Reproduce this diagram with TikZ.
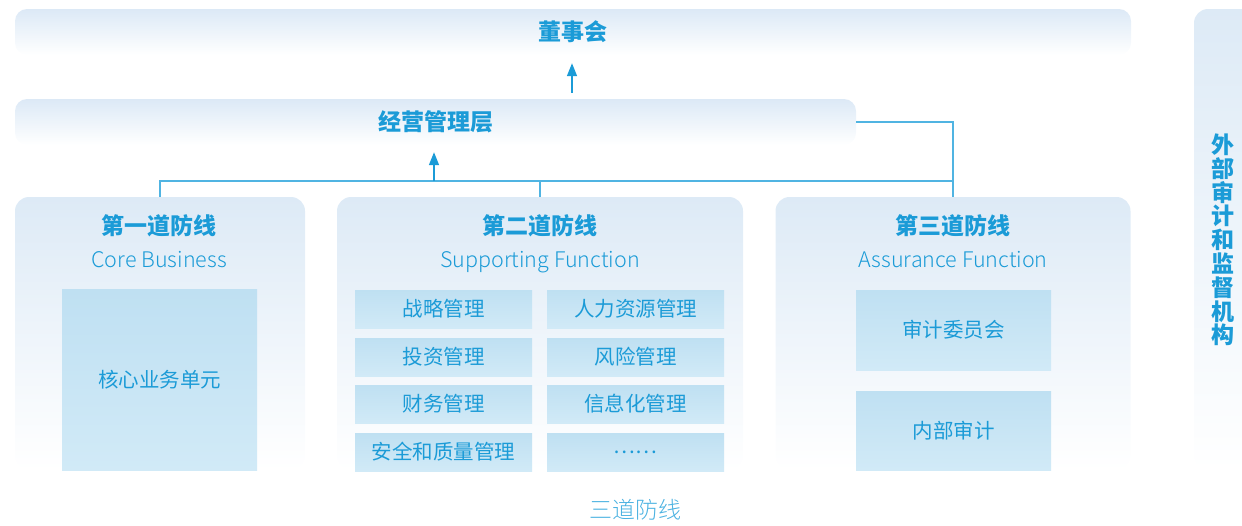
\documentclass[tikz,border=0pt]{standalone}
\usepackage{fontspec}
\setmainfont{Noto Sans CJK SC}
\newfontfamily\lightfont{Noto Sans CJK SC Light}
\usetikzlibrary{arrows.meta,calc}
\definecolor{tblue}{RGB}{27,155,215}
\definecolor{lblue}{RGB}{75,178,225}
\definecolor{linec}{RGB}{80,180,226}
\definecolor{barTop}{RGB}{220,233,246}
\definecolor{panelTop}{RGB}{221,234,246}
\definecolor{cellTop}{RGB}{191,224,242}
\definecolor{cellBot}{RGB}{209,234,247}
\tikzset{
  bar/.style={rounded corners=12pt, top color=barTop, bottom color=white, draw=none, inner sep=0pt, text=tblue, font=\fontsize{23}{26}\selectfont\bfseries},
  panel/.style={rounded corners=14pt, top color=panelTop, bottom color=white, draw=none, inner sep=0pt},
  cell/.style={top color=cellTop, bottom color=cellBot, draw=none, inner sep=0pt, text=tblue, font=\fontsize{20.5}{24}\selectfont},
  ttl/.style={text=tblue, font=\fontsize{23}{26}\selectfont\bfseries, inner sep=0pt},
  sub/.style={text=tblue, font=\fontsize{21.5}{26}\selectfont\lightfont, inner sep=0pt, anchor=base},
  conn/.style={draw=linec, line width=1.6pt},
  arr/.style={draw=tblue, line width=1.6pt, -{Triangle[width=10pt,length=13pt]}}
}
\begin{document}
\begin{tikzpicture}[x=1pt,y=-1pt]
\useasboundingbox (0,0) rectangle (1242,525);
\clip (0,0) rectangle (1242,525);
% bars
\node[bar, minimum width=1116pt, minimum height=46pt] (board) at (573,32) {董事会};
\node[bar, minimum width=841pt, minimum height=46pt] (mgmt) at (435.5,122) {经营管理层};
% side panel
\node[panel, minimum width=90pt, minimum height=461pt] (side) at (1239,239.5) {};
\node[text=tblue, font=\fontsize{23}{23.8}\selectfont\bfseries, align=center, inner sep=0pt] (sideT) at (1223,240) {外\\部\\审\\计\\和\\监\\督\\机\\构};
% panels
\node[panel, minimum width=290pt, minimum height=273pt] (p1) at (160,333.5) {};
\node[panel, minimum width=406pt, minimum height=273pt] (p2) at (540,333.5) {};
\node[panel, minimum width=355pt, minimum height=273pt] (p3) at (953,333.5) {};
% titles
\node[ttl] (t1) at (159,226) {第一道防线};
\node[sub] (s1) at (159,267) {Core Business};
\node[ttl] (t2) at (540,226) {第二道防线};
\node[sub] (s2) at (540,267) {Supporting Function};
\node[ttl] (t3) at (953,226) {第三道防线};
\node[sub] (s3) at (953,267) {Assurance Function};
% cells
\node[cell, minimum width=195pt, minimum height=181pt] (core) at (159.5,379.5) {核心业务单元};
\node[cell, minimum width=177pt, minimum height=38pt] (c11) at (443.5,309) {战略管理};
\node[cell, minimum width=177pt, minimum height=38pt] (c12) at (635.5,309) {人力资源管理};
\node[cell, minimum width=177pt, minimum height=38pt] (c21) at (443.5,357) {投资管理};
\node[cell, minimum width=177pt, minimum height=38pt] (c22) at (635.5,357) {风险管理};
\node[cell, minimum width=177pt, minimum height=38pt] (c31) at (443.5,404) {财务管理};
\node[cell, minimum width=177pt, minimum height=38pt] (c32) at (635.5,404) {信息化管理};
\node[cell, minimum width=177pt, minimum height=38pt] (c41) at (443.5,452) {安全和质量管理};
\node[cell, minimum width=177pt, minimum height=38pt] (c42) at (635.5,452) {……};
\node[cell, minimum width=195pt, minimum height=80pt] (audc) at (953.5,330) {审计委员会};
\node[cell, minimum width=195pt, minimum height=79pt] (inaud) at (953.5,430.5) {内部审计};
% bottom label
\node[sub, text=lblue, anchor=center, font=\fontsize{23}{26}\selectfont\lightfont] (lbl) at (635,510) {三道防线};
% connectors
\coordinate (bus) at (0,181);
\draw[conn] (p1.north) -- (p1.north |- bus) -| (p3.north);
\draw[conn] (p2.north) -- (p2.north |- bus);
\draw[conn] (mgmt.east) -| (p3.north);
\draw[arr] (434,181) -- ($(mgmt.south)+(-1.5,7)$);
\draw[arr] ($(mgmt.north -| board)+(-1,-6)$) -- ($(board.south)+(-1,8)$);
\end{tikzpicture}
\end{document}
